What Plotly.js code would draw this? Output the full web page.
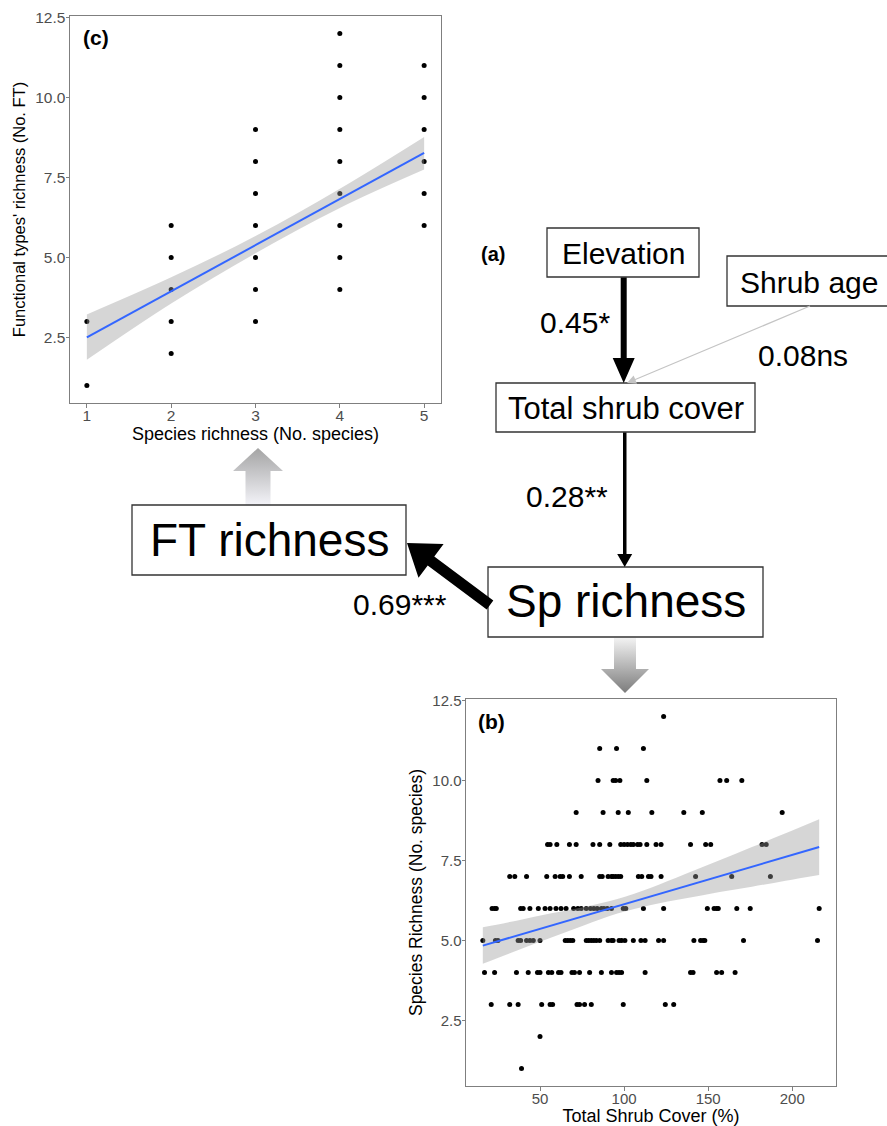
<!DOCTYPE html>
<html>
<head>
<meta charset="utf-8">
<script src="https://cdn.plot.ly/plotly-3.0.1.min.js"></script>
<style>html,body{margin:0;padding:0;background:#fff;}#chart{width:887px;height:1126px;}</style>
</head>
<body>
<div id="chart"></div>
<script>
// ---------- Panel (c): Functional types' richness vs Species richness ----------
const spRichness = [1,1, 2,2,2,2,2, 3,3,3,3,3,3,3, 4,4,4,4,4,4,4,4,4, 5,5,5,5,5,5];
const ftRichness = [1,3, 2,3,4,5,6, 3,4,5,6,7,8,9, 4,5,6,7,8,9,10,11,12, 6,7,8,9,10,11];
const fitX_c  = [1, 2, 3, 4, 5];
const fitY_c  = [2.50, 3.94, 5.38, 6.83, 8.27];
const lower_c = [1.80, 3.56, 5.13, 6.55, 7.75];
const upper_c = [3.22, 4.38, 5.67, 7.15, 8.77];

// ---------- Panel (b): Species richness vs Total shrub cover (rows by richness) ----------
const cover_r12 = [123.5];
const cover_r11 = [85.5, 95.5, 111.5];
const cover_r10 = [84.5, 93.5, 95, 97.5, 113.5, 157, 161, 170];
const cover_r9  = [71.5, 87.5, 96.5, 102.5, 116.5, 135.5, 146.5, 194];
const cover_r8  = [54.5, 56, 60, 67.5, 71.5, 81.5, 85.5, 91.5, 98, 100, 102, 104, 105.5, 108, 109.5, 113.5, 119, 122, 139.5, 148.5, 151.5, 182, 184.5];
const cover_r7  = [32, 35, 42, 54, 59, 62, 63.5, 67.5, 74.5, 85.5, 87, 90.5, 92.5, 93.5, 95, 96.5, 98, 108.5, 110.5, 114.5, 116, 122, 142.5, 164, 187];
const cover_r6  = [21.5, 23, 24, 38.5, 40, 44, 49, 53, 56, 59.5, 62.5, 65.5, 70, 72.5, 74.5, 77.5, 80, 82, 84, 86.5, 88, 90, 92.5, 99.5, 101, 111.5, 123.5, 149.5, 153.5, 155, 156, 167, 175, 216];
const cover_r5  = [16, 23.5, 25, 37, 38.5, 42, 44, 46, 50, 65, 66.5, 68, 69.5, 77.5, 79, 80.5, 82, 83.5, 85.5, 90.5, 92.5, 93.5, 97, 98.5, 100.5, 105.5, 110, 112.5, 120.5, 123.5, 141.5, 145.5, 147, 148, 171, 215];
const cover_r4  = [17, 23, 36, 43, 48.5, 50, 55, 57, 61, 62.5, 69, 70.5, 73.5, 79.5, 86.5, 92.5, 95.5, 97, 98.5, 112.5, 139.5, 141, 155, 158, 166];
const cover_r3  = [21, 32, 37, 51, 56, 57.5, 72, 73.5, 76.5, 80.5, 99.5, 124.5, 129.5];
const cover_r2  = [50];
const cover_r1  = [39];
const richnessRows = [12, 11, 10, 9, 8, 7, 6, 5, 4, 3, 2, 1];
const coverRows = [cover_r12, cover_r11, cover_r10, cover_r9, cover_r8, cover_r7, cover_r6, cover_r5, cover_r4, cover_r3, cover_r2, cover_r1];
const fitX_b  = [16, 36, 56, 76, 96, 116, 136, 156, 176, 196, 216];
const fitY_b  = [4.84, 5.15, 5.46, 5.76, 6.07, 6.38, 6.69, 7.00, 7.30, 7.61, 7.92];
const lower_b = [4.27, 4.68, 5.08, 5.47, 5.84, 6.11, 6.31, 6.51, 6.68, 6.87, 7.05];
const upper_b = [5.41, 5.62, 5.84, 6.05, 6.30, 6.65, 7.07, 7.49, 7.92, 8.35, 8.79];

// ---------- Path diagram (a) labels ----------
const nodeLabels = ["Elevation", "Shrub age", "Total shrub cover", "Sp richness", "FT richness"];
const pathCoefs  = ["0.45*", "0.08ns", "0.28**", "0.69***"];

// ---------- build ----------
const W = 887, H = 1126;
const FONT = "Liberation Sans, Arial, sans-serif";
const bandFill = "rgba(153,153,153,0.4)";
const lineBlue = "#3366FF";

const bx = [], by = [];
coverRows.forEach((row, i) => row.forEach(v => { bx.push(v); by.push(richnessRows[i]); }));

const traces = [
  {x: spRichness, y: ftRichness, type: "scatter", mode: "markers", xaxis: "x", yaxis: "y",
   marker: {color: "#000", size: 5}, hoverinfo: "skip"},
  {x: fitX_c, y: lower_c, type: "scatter", mode: "lines", xaxis: "x", yaxis: "y",
   line: {width: 0, shape: "spline"}, hoverinfo: "skip"},
  {x: fitX_c, y: upper_c, type: "scatter", mode: "lines", xaxis: "x", yaxis: "y", fill: "tonexty",
   fillcolor: bandFill, line: {width: 0, shape: "spline"}, hoverinfo: "skip"},
  {x: fitX_c, y: fitY_c, type: "scatter", mode: "lines", xaxis: "x", yaxis: "y",
   line: {color: lineBlue, width: 2}, hoverinfo: "skip"},

  {x: bx, y: by, type: "scatter", mode: "markers", xaxis: "x2", yaxis: "y2",
   marker: {color: "#000", size: 5}, hoverinfo: "skip"},
  {x: fitX_b, y: lower_b, type: "scatter", mode: "lines", xaxis: "x2", yaxis: "y2",
   line: {width: 0, shape: "spline"}, hoverinfo: "skip"},
  {x: fitX_b, y: upper_b, type: "scatter", mode: "lines", xaxis: "x2", yaxis: "y2", fill: "tonexty",
   fillcolor: bandFill, line: {width: 0, shape: "spline"}, hoverinfo: "skip"},
  {x: fitX_b, y: fitY_b, type: "scatter", mode: "lines", xaxis: "x2", yaxis: "y2",
   line: {color: lineBlue, width: 2}, hoverinfo: "skip"}
];

// arrow polygon helper (pixel space)
function arrowPts(x0, y0, x1, y1, sw, hl, hw) {
  const dx = x1 - x0, dy = y1 - y0, L = Math.hypot(dx, dy);
  const ux = dx / L, uy = dy / L, px = -uy, py = ux;
  const bxp = x1 - ux * hl, byp = y1 - uy * hl;
  return [
    [x0 + px * sw / 2, y0 + py * sw / 2],
    [bxp + px * sw / 2, byp + py * sw / 2],
    [bxp + px * hw / 2, byp + py * hw / 2],
    [x1, y1],
    [bxp - px * hw / 2, byp - py * hw / 2],
    [bxp - px * sw / 2, byp - py * sw / 2],
    [x0 - px * sw / 2, y0 - py * sw / 2]
  ];
}
function toPath(pts) { return "M" + pts.map(p => p[0].toFixed(1) + "," + p[1].toFixed(1)).join(" L") + " Z"; }

// gradient arrows as filled traces on an invisible pixel overlay axis
const upArrow = arrowPts(258, 505, 258, 448, 25, 23, 50);
const downArrow = arrowPts(625, 638, 625, 693, 22, 24, 48);
traces.push({
  x: upArrow.map(p => p[0]), y: upArrow.map(p => p[1]), type: "scatter", mode: "lines",
  xaxis: "x3", yaxis: "y3", fill: "toself", line: {width: 0}, hoverinfo: "skip",
  fillgradient: {type: "vertical", start: 448, stop: 505, colorscale: [[0, "#a4a4a4"], [1, "#f3f3f8"]]}
});
traces.push({
  x: downArrow.map(p => p[0]), y: downArrow.map(p => p[1]), type: "scatter", mode: "lines",
  xaxis: "x3", yaxis: "y3", fill: "toself", line: {width: 0}, hoverinfo: "skip",
  fillgradient: {type: "vertical", start: 638, stop: 693, colorscale: [[0, "#f2f2f2"], [1, "#7c7c7c"]]}
});

const axBase = {
  showgrid: false, zeroline: false, showline: true, mirror: true, linecolor: "#7f7f7f", linewidth: 1,
  ticks: "outside", ticklen: 3.5, tickcolor: "#7f7f7f", tickwidth: 1, fixedrange: true
};

const shapes = [];
const box = (x0, y0, x1, y1) => shapes.push({type: "rect", xref: "x3", yref: "y3", x0, y0, x1, y1,
  line: {color: "#333", width: 1.3}, fillcolor: "#fff", layer: "above"});
box(547, 228, 699, 277);   // Elevation
box(727, 256, 892, 306);   // Shrub age
box(496, 383, 755, 432);   // Total shrub cover
box(488, 567, 763, 637);   // Sp richness
box(132, 505, 406, 575);   // FT richness

const solidArrow = (pts, col) => shapes.push({type: "path", xref: "x3", yref: "y3", path: toPath(pts),
  fillcolor: col, line: {width: 0}, layer: "above"});
solidArrow(arrowPts(623.7, 277.5, 623.7, 383, 6, 25, 22), "#000");
solidArrow(arrowPts(624.7, 432.5, 624.7, 567, 3.5, 13, 15), "#000");
solidArrow(arrowPts(490, 605, 407, 543, 11, 30, 42), "#000");
solidArrow(arrowPts(810, 306, 627, 383, 1.2, 9, 9), "#c4c4c4");

const ann = (text, x, y, size, bold) => ({text: bold ? "<b>" + text + "</b>" : text, x, y, xref: "x3", yref: "y3",
  showarrow: false, xanchor: "center", yanchor: "middle", font: {family: FONT, size, color: "#000"}});

const annotations = [
  ann(nodeLabels[0], 623, 253, 30),
  ann(nodeLabels[1], 809, 282, 30),
  ann(nodeLabels[2], 625.5, 408, 31),
  ann(nodeLabels[3], 625.5, 601, 46),
  ann(nodeLabels[4], 269, 540, 46),
  ann(pathCoefs[0], 575, 322, 30),
  ann(pathCoefs[1], 802.5, 355, 30),
  ann(pathCoefs[2], 566.5, 496, 30),
  ann(pathCoefs[3], 400, 604, 30),
  ann("(a)", 492.5, 254, 20, true),
  ann("(c)", 95.5, 37, 21, true),
  ann("(b)", 491, 721, 21, true)
];

const layout = {
  width: W, height: H, margin: {l: 0, r: 0, t: 0, b: 0}, showlegend: false,
  paper_bgcolor: "#fff", plot_bgcolor: "rgba(0,0,0,0)",
  font: {family: FONT, color: "#000"},
  xaxis: Object.assign({}, axBase, {domain: [70 / W, 441 / W], range: [0.8, 5.2], tickvals: [1, 2, 3, 4, 5],
    anchor: "y", tickfont: {size: 15.5, color: "#4d4d4d"}, ticklabelstandoff: -5,
    title: {text: "Species richness (No. species)", font: {size: 18, color: "#000"}, standoff: 0}}),
  yaxis: Object.assign({}, axBase, {domain: [1 - 403 / H, 1 - 16 / H], range: [0.45, 12.55],
    tickvals: [2.5, 5, 7.5, 10, 12.5], ticktext: ["2.5", "5.0", "7.5", "10.0", "12.5"], anchor: "x",
    tickfont: {size: 15.5, color: "#4d4d4d"}, ticklabelstandoff: -3,
    title: {text: "Functional types' richness (No. FT)", font: {size: 16.5, color: "#000"}, standoff: 5}}),
  xaxis2: Object.assign({}, axBase, {domain: [466 / W, 836 / W], range: [6, 226], tickvals: [50, 100, 150, 200],
    anchor: "y2", tickfont: {size: 15, color: "#4d4d4d"}, ticklabelstandoff: -5,
    title: {text: "Total Shrub Cover (%)", font: {size: 18, color: "#000"}, standoff: 0}}),
  yaxis2: Object.assign({}, axBase, {domain: [1 - 1086 / H, 1 - 699 / H], range: [0.45, 12.55],
    tickvals: [2.5, 5, 7.5, 10, 12.5], ticktext: ["2.5", "5.0", "7.5", "10.0", "12.5"], anchor: "x2",
    tickfont: {size: 15, color: "#4d4d4d"}, ticklabelstandoff: -3,
    title: {text: "Species Richness (No. species)", font: {size: 17.5, color: "#000"}, standoff: 5}}),
  xaxis3: {domain: [0, 1], range: [0, W], visible: false, anchor: "y3", fixedrange: true},
  yaxis3: {domain: [0, 1], range: [H, 0], visible: false, anchor: "x3", fixedrange: true},
  shapes, annotations
};

Plotly.newPlot("chart", traces, layout, {displayModeBar: false, staticPlot: true});
</script>
</body>
</html>
